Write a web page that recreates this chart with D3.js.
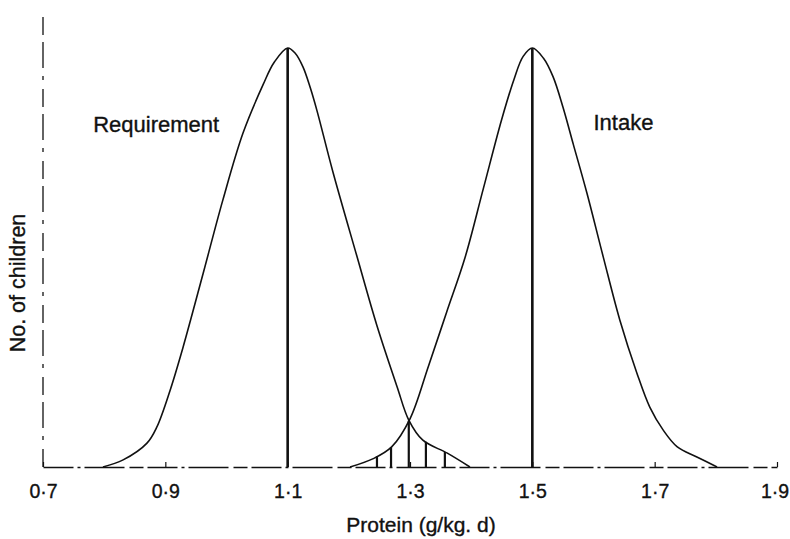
<!DOCTYPE html>
<html>
<head>
<meta charset="utf-8">
<title>Protein requirement and intake</title>
<script src="https://cdn.jsdelivr.net/npm/d3@7"></script>
<style>
  body { margin: 0; background: #fff; }
  svg text { font-family: "Liberation Sans", Arial, Helvetica, sans-serif; fill: #111; stroke: #111; stroke-width: 0.35px; }
</style>
</head>
<body>
<svg id="chart" width="790" height="539"></svg>
<script>
// values (height = % of peak)
var reqX = [0.798, 0.831, 0.870, 0.886, 0.908, 0.929, 0.962, 0.994, 1.027, 1.060, 1.078, 1.100, 1.112, 1.125, 1.137, 1.148, 1.174, 1.213, 1.246, 1.279, 1.298, 1.321, 1.361, 1.398];
var reqY = [0, 1.7, 5.7, 9.5, 18.4, 28.6, 46.3, 63.7, 79.7, 91.3, 96.6, 100, 98.8, 95.5, 90.5, 85, 70.4, 50.4, 33.7, 19.1, 11.2, 6.4, 3.3, 0];

var intX = [1.202, 1.240, 1.270, 1.300, 1.330, 1.360, 1.390, 1.420, 1.450, 1.470, 1.485, 1.500, 1.518, 1.534, 1.550, 1.567, 1.589, 1.616, 1.643, 1.671, 1.692, 1.714, 1.737, 1.769, 1.802];
var intY = [0, 2, 4.8, 11.5, 24, 37, 50, 66.5, 83, 92.5, 98, 100, 97.6, 93.1, 85.9, 77, 65.5, 50.1, 35.1, 22.4, 14.3, 8.8, 4.8, 2.4, 0];

var means = [1.1, 1.5];
var hatchX = [1.246, 1.269, 1.298, 1.326, 1.357];
var tickVals = [0.7, 0.9, 1.1, 1.3, 1.5, 1.7, 1.9];
var labels = [{t: "Requirement", x: 0.782, y: 80}, {t: "Intake", x: 1.6, y: 80.5}];

var svg = d3.select("#chart");

var x = d3.scaleLinear().domain([0.7, 1.9]).range([43, 777]);
var y = d3.scaleLinear().domain([0, 100]).range([467, 48]);

// axes: dashed lines like the scan
var xAxis = d3.axisBottom(x)
  .tickValues(tickVals)
  .tickSizeInner(-5)
  .tickSizeOuter(0)
  .tickPadding(17.5)
  .tickFormat(function(d) { return d3.format(".1f")(d).replace(".", "\u00b7"); });

var gx = svg.append("g").attr("transform", "translate(0," + y(0) + ")").call(xAxis);
gx.select(".domain").attr("stroke", "#111").attr("stroke-width", 1.3)
  .attr("stroke-dasharray", "30,4,3,4,40,5,14,4");
gx.selectAll(".tick line").attr("stroke", "#111").attr("stroke-width", 1.2);
gx.selectAll(".tick text").style("font-size", "19.5px").attr("fill", "#111")
  .attr("dx", function(d, i) { return i === tickVals.length - 1 ? -2.5 : 0; });

svg.append("line")
  .attr("x1", x(0.7)).attr("x2", x(0.7))
  .attr("y1", y(0)).attr("y2", 10)
  .attr("stroke", "#111").attr("stroke-width", 1.3)
  .attr("stroke-dasharray", "18,9,4,8,26,7");

// curves
var line = d3.line()
  .x(function(d) { return x(d[0]); })
  .y(function(d) { return y(d[1]); })
  .curve(d3.curveCatmullRom.alpha(0.5));

[[reqX, reqY], [intX, intY]].forEach(function(s) {
  svg.append("path")
    .datum(d3.zip(s[0], s[1]))
    .attr("d", line)
    .attr("fill", "none")
    .attr("stroke", "#111")
    .attr("stroke-width", 1.6);
});

// mean lines
svg.selectAll(".mean")
  .data(means)
  .enter().append("line")
  .attr("class", "mean")
  .attr("x1", function(d) { return x(d); })
  .attr("x2", function(d) { return x(d); })
  .attr("y1", y(0))
  .attr("y2", y(100))
  .attr("stroke", "#111")
  .attr("stroke-width", 2.6);

// hatching under the overlap
var reqAt = d3.scaleLinear().domain(reqX).range(reqY).clamp(true);
var intAt = d3.scaleLinear().domain(intX).range(intY).clamp(true);

svg.selectAll(".hatch")
  .data(hatchX)
  .enter().append("line")
  .attr("class", "hatch")
  .attr("x1", function(d) { return x(d); })
  .attr("x2", function(d) { return x(d); })
  .attr("y1", y(0))
  .attr("y2", function(d) { return y(Math.min(reqAt(d), intAt(d))); })
  .attr("stroke", "#111")
  .attr("stroke-width", 2.2);

// labels
svg.selectAll(".lab")
  .data(labels)
  .enter().append("text")
  .attr("class", "lab")
  .attr("x", function(d) { return x(d.x); })
  .attr("y", function(d) { return y(d.y); })
  .style("font-size", "22px")
  .text(function(d) { return d.t; });

svg.append("text")
  .attr("x", 421).attr("y", 532)
  .attr("text-anchor", "middle")
  .style("font-size", "21px")
  .text("Protein (g/kg. d)");

svg.append("text")
  .attr("transform", "translate(25,283) rotate(-90)")
  .attr("text-anchor", "middle")
  .style("font-size", "21.5px")
  .text("No. of children");
</script>
</body>
</html>
